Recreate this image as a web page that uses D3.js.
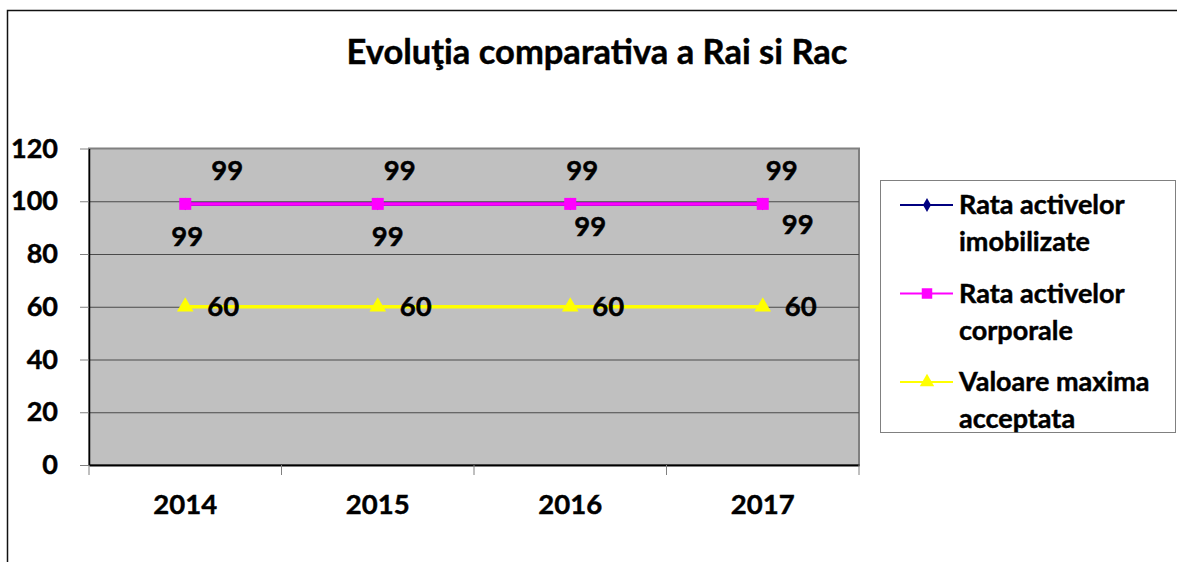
<!DOCTYPE html>
<html>
<head>
<meta charset="utf-8">
<script src="https://cdn.jsdelivr.net/npm/d3@7"></script>
<style>
  body { margin: 0; background: #fff; }
  svg { display: block; font-family: Lato, 'Open Sans', sans-serif; font-weight: bold; }
  text { stroke: #000; stroke-width: 0.45px; }
</style>
</head>
<body>
<svg id="chart"></svg>
<script>
const years = ['2014', '2015', '2016', '2017'];
const rataImobilizate = [99, 99, 99, 99];
const rataCorporale = [99, 99, 99, 99];
const valoareMaxima = [60, 60, 60, 60];
const yTicks = [0, 20, 40, 60, 80, 100, 120];
const seriesNames = ['Rata activelor imobilizate', 'Rata activelor corporale', 'Valoare maxima acceptata'];
const titleText = 'Evoluţia comparativa a Rai si Rac';

const width = 1177;
const height = 562;
const margin = { top: 148.5, right: 318, bottom: 97, left: 89 };

const svg = d3.select('#chart')
  .attr('width', width)
  .attr('height', height);

// outer chart border (only top and left visible)
svg.append('path')
  .attr('d', `M7.5,${height} V10.5 H${width}`)
  .attr('fill', 'none')
  .attr('stroke', '#111')
  .attr('stroke-width', 1.5);

svg.append('text')
  .attr('x', 597)
  .attr('y', 64)
  .attr('text-anchor', 'middle')
  .attr('font-size', 34.5)
  .text(titleText);

const x = d3.scaleBand()
  .domain(years)
  .range([margin.left, width - margin.right]);

const y = d3.scaleLinear()
  .domain([0, 120])
  .range([height - margin.bottom, margin.top]);

const cx = d => x(d) + x.bandwidth() / 2;

// plot area
svg.append('rect')
  .attr('x', margin.left)
  .attr('y', y(120))
  .attr('width', x.range()[1] - margin.left)
  .attr('height', y(0) - y(120))
  .attr('fill', '#c0c0c0')
  .attr('stroke', '#808080')
  .attr('stroke-width', 2);

// gridlines
svg.append('g')
  .attr('transform', `translate(${margin.left},0)`)
  .call(d3.axisLeft(y).tickValues(yTicks.filter(v => v > 0 && v < 120))
    .tickSize(-(x.range()[1] - margin.left)).tickFormat(''))
  .call(g => g.select('.domain').remove())
  .call(g => g.selectAll('line').attr('stroke', '#4a4a4a'));

// y axis
svg.append('g')
  .attr('transform', `translate(${margin.left},0)`)
  .call(d3.axisLeft(y).tickValues(yTicks).tickSize(9).tickPadding(22).tickSizeOuter(0))
  .call(g => g.select('.domain').attr('stroke', '#000').attr('stroke-width', 1.5))
  .call(g => g.selectAll('line').attr('stroke', '#808080'))
  .call(g => g.selectAll('text')
    .attr('font-size', 27)
    .attr('font-family', 'Lato, sans-serif')
    .attr('font-weight', 'bold')
    .attr('fill', '#000'));

// x axis
const xAxis = svg.append('g')
  .attr('transform', `translate(0,${y(0)})`)
  .call(d3.axisBottom(x).tickSize(0).tickPadding(29))
  .call(g => g.select('.domain').attr('stroke', '#000').attr('stroke-width', 2))
  .call(g => g.selectAll('text')
    .attr('font-size', 27.5)
    .attr('font-family', 'Lato, sans-serif')
    .attr('font-weight', 'bold')
    .attr('fill', '#000'));

xAxis.selectAll('.bound')
  .data(years.map(d => x(d)).concat([x.range()[1]]))
  .join('line')
  .attr('class', 'bound')
  .attr('x1', d => d).attr('x2', d => d)
  .attr('y1', 0).attr('y2', 10)
  .attr('stroke', '#808080');

const line = d3.line()
  .x((d, i) => cx(years[i]))
  .y(d => y(d));

const series = [
  { name: seriesNames[0], values: rataImobilizate, color: '#000080', symbol: d3.symbolDiamond, size: 45, legendSize: 55 },
  { name: seriesNames[1], values: rataCorporale, color: '#ff00ff', symbol: d3.symbolSquare, size: 144, legendSize: 110 },
  { name: seriesNames[2], values: valoareMaxima, color: '#ffff00', symbol: d3.symbolTriangle, size: 120, legendSize: 90 }
];

series.forEach(s => {
  svg.append('path')
    .datum(s.values)
    .attr('fill', 'none')
    .attr('stroke', s.color)
    .attr('stroke-width', 3.5)
    .attr('d', line);
  svg.append('g')
    .selectAll('path')
    .data(s.values)
    .join('path')
    .attr('transform', (d, i) => `translate(${cx(years[i])},${y(d)})`)
    .attr('d', d3.symbol(s.symbol, s.size))
    .attr('fill', s.color);
});

// data labels (nudged like the original)
const aboveShift = [42, 22, 12, 19];
const belowShift = [2, 10, 20, 35];
const belowDrop = [32, 32, 22, 20];

const labels = svg.append('g')
  .attr('font-size', 27.5)
  .attr('fill', '#000')
  .attr('text-anchor', 'middle');

labels.selectAll('.lab-imob')
  .data(rataImobilizate)
  .join('text')
  .attr('class', 'lab-imob')
  .attr('x', (d, i) => cx(years[i]) + aboveShift[i])
  .attr('y', d => y(d) - 34)
  .attr('dy', '0.35em')
  .text(d => d);

labels.selectAll('.lab-corp')
  .data(rataCorporale)
  .join('text')
  .attr('class', 'lab-corp')
  .attr('x', (d, i) => cx(years[i]) + belowShift[i])
  .attr('y', (d, i) => y(d) + belowDrop[i])
  .attr('dy', '0.35em')
  .text(d => d);

labels.selectAll('.lab-max')
  .data(valoareMaxima)
  .join('text')
  .attr('class', 'lab-max')
  .attr('x', (d, i) => cx(years[i]) + 38)
  .attr('y', d => y(d))
  .attr('dy', '0.35em')
  .text(d => d);

// legend
const legend = svg.append('g');
legend.append('rect')
  .attr('x', 880.5)
  .attr('y', 180.5)
  .attr('width', 295)
  .attr('height', 252)
  .attr('fill', '#fff')
  .attr('stroke', '#808080');

const legendRow = legend.selectAll('.row')
  .data(series)
  .join('g')
  .attr('class', 'row')
  .attr('transform', (d, i) => `translate(0,${205 + i * 88.5})`);

legendRow.append('line')
  .attr('x1', 900).attr('x2', 953)
  .attr('stroke', d => d.color)
  .attr('stroke-width', 2);

legendRow.append('path')
  .attr('transform', 'translate(927,0)')
  .attr('d', d => d3.symbol(d.symbol, d.legendSize)())
  .attr('fill', d => d.color);

legendRow.append('text')
  .attr('x', 959)
  .attr('font-size', 27)
  .attr('fill', '#000')
  .selectAll('tspan')
  .data(d => {
    const w = d.name.split(' ');
    return [w.slice(0, 2).join(' '), w.slice(2).join(' ')];
  })
  .join('tspan')
  .attr('x', 959)
  .attr('y', (d, i) => i * 37)
  .attr('dy', '0.35em')
  .text(d => d);
</script>
</body>
</html>
